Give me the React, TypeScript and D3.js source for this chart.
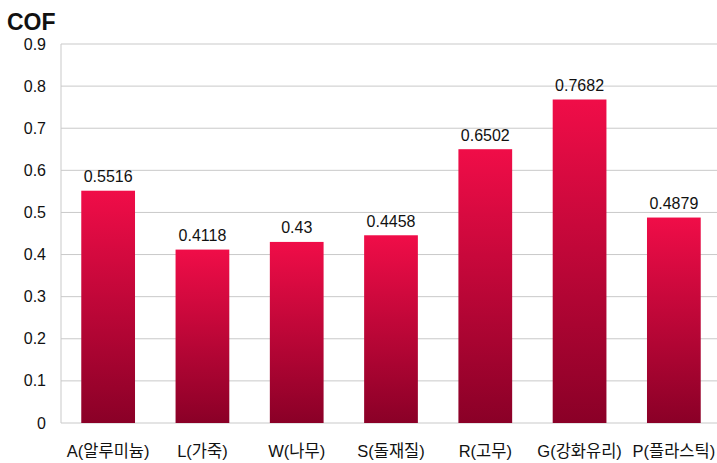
import React from "react";
import * as d3 from "d3";

const categories = ["A(알루미늄)", "L(가죽)", "W(나무)", "S(돌재질)", "R(고무)", "G(강화유리)", "P(플라스틱)"];
const values = [0.5516, 0.4118, 0.43, 0.4458, 0.6502, 0.7682, 0.4879];
const valueLabels = ["0.5516", "0.4118", "0.43", "0.4458", "0.6502", "0.7682", "0.4879"];
const yTicks = [0, 0.1, 0.2, 0.3, 0.4, 0.5, 0.6, 0.7, 0.8, 0.9];

const W = 717;
const H = 463;
const left = 61;
const right = 721;
const top = 44;
const bottom = 423;
const font = "'Liberation Sans', 'Noto Sans CJK KR', Arial, sans-serif";

export default function App() {
  const x = d3.scaleBand<string>().domain(categories).range([left, right]).paddingInner(0.43).paddingOuter(0.215);
  const y = d3.scaleLinear().domain([0, 0.9]).range([bottom, top]);
  return (
    <svg width={W} height={H} style={{ position: "absolute", left: 0, top: 0, background: "#fff" }}>
      <defs>
        <linearGradient id="barGrad" x1="0" y1="0" x2="0" y2="1">
          <stop offset="0%" stopColor="#f00d48" />
          <stop offset="100%" stopColor="#8a0027" />
        </linearGradient>
      </defs>
      {yTicks.map((t) => (
        <g key={t}>
          <line x1={left} x2={W} y1={y(t)} y2={y(t)} stroke="#c9c9c9" strokeWidth={1} />
          <text x={46} y={y(t) + 5.5} textAnchor="end" fontFamily={font} fontSize={16} fill="#111">
            {d3.format("")(t)}
          </text>
        </g>
      ))}
      <line x1={left} x2={left} y1={top} y2={bottom} stroke="#c9c9c9" strokeWidth={1} />
      {categories.map((c, i) => (
        <g key={c}>
          <rect
            x={x(c)}
            y={y(values[i])}
            width={x.bandwidth()}
            height={bottom - y(values[i])}
            fill="url(#barGrad)"
          />
          <text
            x={(x(c) as number) + x.bandwidth() / 2}
            y={y(values[i]) - 8.5}
            textAnchor="middle"
            fontFamily={font}
            fontSize={16}
            fill="#111"
          >
            {valueLabels[i]}
          </text>
          <text
            x={(x(c) as number) + x.bandwidth() / 2}
            y={457}
            textAnchor="middle"
            fontFamily={font}
            fontSize={16.5}
            fill="#111"
          >
            {c}
          </text>
        </g>
      ))}
      <text x={7} y={30} fontFamily={font} fontSize={23} fontWeight="bold" fill="#111">
        COF
      </text>
    </svg>
  );
}
